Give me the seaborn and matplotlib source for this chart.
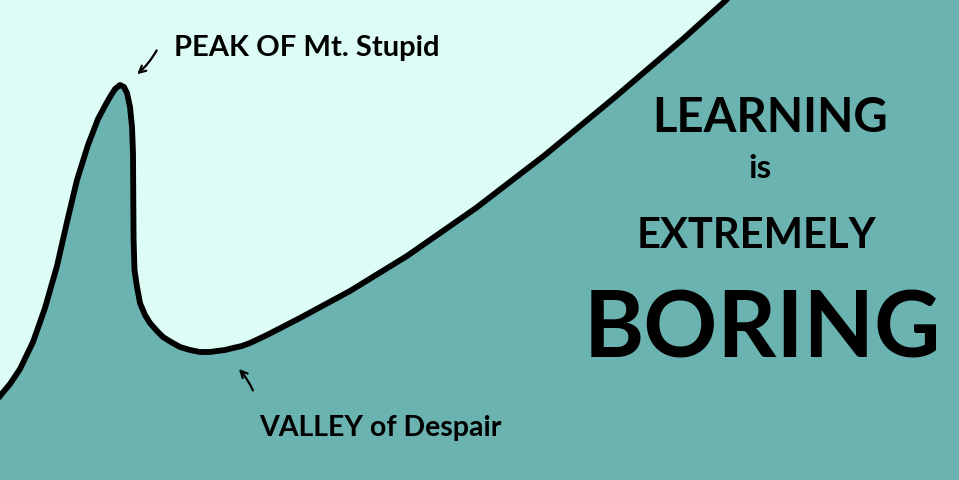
import matplotlib
matplotlib.use("Agg")
import matplotlib.pyplot as plt
import seaborn as sns
import pandas as pd

# Curve (pixel-space reading of the reference, y measured from top)
curve_x = [-10, 0, 10, 20, 33, 45, 57, 67, 77, 88, 98, 106, 110, 115, 120, 124, 127, 130, 132,
           133, 133.3, 133.6, 134.5, 137, 140, 145, 150, 157, 163, 171, 180, 190, 200,
           210, 217, 225, 233, 242, 250, 267, 300, 350, 407, 476, 545, 614, 683, 724, 745]
curve_y = [409, 396, 384, 369, 342, 308, 266, 222, 180, 145, 119, 104, 97, 89, 85, 87, 93, 107, 127,
           153, 200, 240, 270, 287, 303, 315, 323, 331, 337, 342, 347, 350, 352,
           352, 351, 350, 348, 346, 343, 335, 318, 291, 256, 208, 155, 98, 39, 2, -18]

peak_label = "PEAK OF Mt. Stupid"
valley_label = "VALLEY of Despair"
title_lines = ["LEARNING", "is", "EXTREMELY", "BORING"]

BG = "#ddfcf5"
FILL = "#6bb3b0"

sns.set_theme(style="white")
plt.rcParams["font.family"] = ["Lato", "DejaVu Sans"]

fig = plt.figure(figsize=(9.59, 4.80), dpi=100)
ax = fig.add_axes([0, 0, 1, 1])
ax.set_facecolor(BG)
fig.patch.set_facecolor(BG)

df = pd.DataFrame({"x": curve_x, "y": curve_y})

# fill under curve, plus the region to the right of where the curve exits the top
fx = curve_x + [980]
fy = curve_y[:-1] + [-30, -30]
ax.fill_between(fx, fy, 500, color=FILL, lw=0, zorder=1)

sns.lineplot(data=df, x="x", y="y", sort=False, estimator=None, color="black",
             lw=4.2, ax=ax, zorder=3, solid_capstyle="round", solid_joinstyle="round")

ax.set_xlim(0, 959)
ax.set_ylim(480, 0)
ax.set_axis_off()

ax.text(307, 48, peak_label, ha="center", va="center", fontsize=21,
        fontweight="bold", color="black")
ax.text(380, 428, valley_label, ha="center", va="center", fontsize=20.5,
        fontweight="bold", color="black")

ax.annotate("", xy=(135, 76), xytext=(158, 48),
            arrowprops=dict(arrowstyle="->", lw=1.6, color="black",
                            connectionstyle="arc3,rad=-0.1"))
ax.annotate("", xy=(237, 367), xytext=(254, 393),
            arrowprops=dict(arrowstyle="->", lw=1.6, color="black",
                            connectionstyle="arc3,rad=0.1"))

ax.text(770, 118, title_lines[0], ha="center", va="center", fontsize=34,
        fontweight="bold", color="black")
ax.text(760, 168, title_lines[1], ha="center", va="center", fontsize=24,
        fontweight="bold", color="black")
ax.text(757, 236, title_lines[2], ha="center", va="center", fontsize=30,
        fontweight="bold", color="black")
ax.text(762, 332, title_lines[3], ha="center", va="center", fontsize=66,
        fontweight="bold", color="black")

fig.savefig("out.png", dpi=100, facecolor=BG)
